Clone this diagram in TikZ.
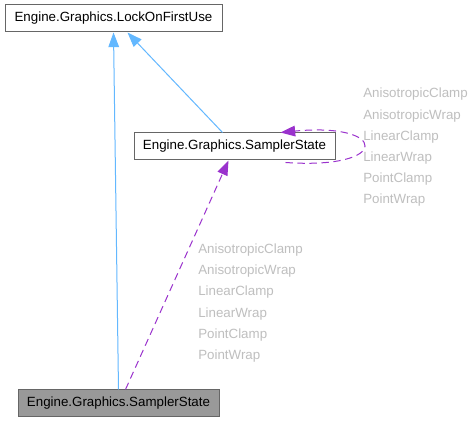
\documentclass[tikz,border=0pt]{standalone}
\usepackage{fontspec}
\setmainfont{Liberation Sans}
\usetikzlibrary{arrows.meta,calc}
\definecolor{ssInk}{HTML}{000000}
\definecolor{ssFrame}{HTML}{666666}
\definecolor{ssFill}{HTML}{999999}
\definecolor{ssBlue}{HTML}{63B8FF}
\definecolor{ssPurple}{HTML}{9A32CD}
\definecolor{ssMuted}{HTML}{BFBFBF}
\tikzset{
  ss canvas/.style={fill=white},
  ss box/.style={
    draw=ssFrame,
    fill=white,
    line width=.75pt,
    minimum height=20.25pt,
    inner sep=0pt,
    font=\fontsize{10}{12}\selectfont,
    text=ssInk
  },
  ss current/.style={ss box, fill=ssFill},
  ss inherit/.style={
    draw=ssBlue,
    line width=.75pt,
    -{Triangle[length=11pt,width=8pt]}
  },
  ss usage/.style={
    draw=ssPurple,
    line width=.75pt,
    dash pattern=on 5.5pt off 3.5pt,
    -{Triangle[length=11pt,width=8pt]}
  },
  ss label/.style={
    align=left,
    anchor=north west,
    inner sep=0pt,
    font=\fontsize{10}{15.9}\selectfont,
    text=ssMuted
  }
}

\begin{document}
\begin{tikzpicture}[x=.75pt,y=-.75pt]
  \path[ss canvas] (0,0) rectangle (475,423);
  \useasboundingbox (0,0) rectangle (475,423);

  \node[ss box, minimum width=162.75pt] (lockBox) at (113.5,18.5)
    {Engine.Graphics.LockOnFirstUse};
  \node[ss box, minimum width=150.75pt] (samplerBox) at (234.5,146.5)
    {Engine.Graphics.SamplerState};
  \node[ss current, minimum width=150.75pt] (instanceBox) at (118.5,403.5)
    {Engine.Graphics.SamplerState};

  \draw[ss inherit] (instanceBox.north) -- (lockBox.south);
  \draw[ss inherit] ($(samplerBox.north)+(-12,0)$) -- ($(lockBox.south)+(14,0)$);
  \draw[ss usage] ($(instanceBox.north)+(7,0)$) -- ($(samplerBox.south)+(-6,0)$);
  \draw[ss usage] ($(samplerBox.south east)+(-50,2)$)
    .. controls (392,170) and (388,122) .. ($(samplerBox.north east)+(-55,0)$);

  \node[ss label] (loopLabel) at (363,88)
    {AnisotropicClamp\\AnisotropicWrap\\LinearClamp\\LinearWrap\\PointClamp\\PointWrap};
  \node[ss label] (usageLabel) at (198,243.5)
    {AnisotropicClamp\\AnisotropicWrap\\LinearClamp\\LinearWrap\\PointClamp\\PointWrap};
\end{tikzpicture}
\end{document}
